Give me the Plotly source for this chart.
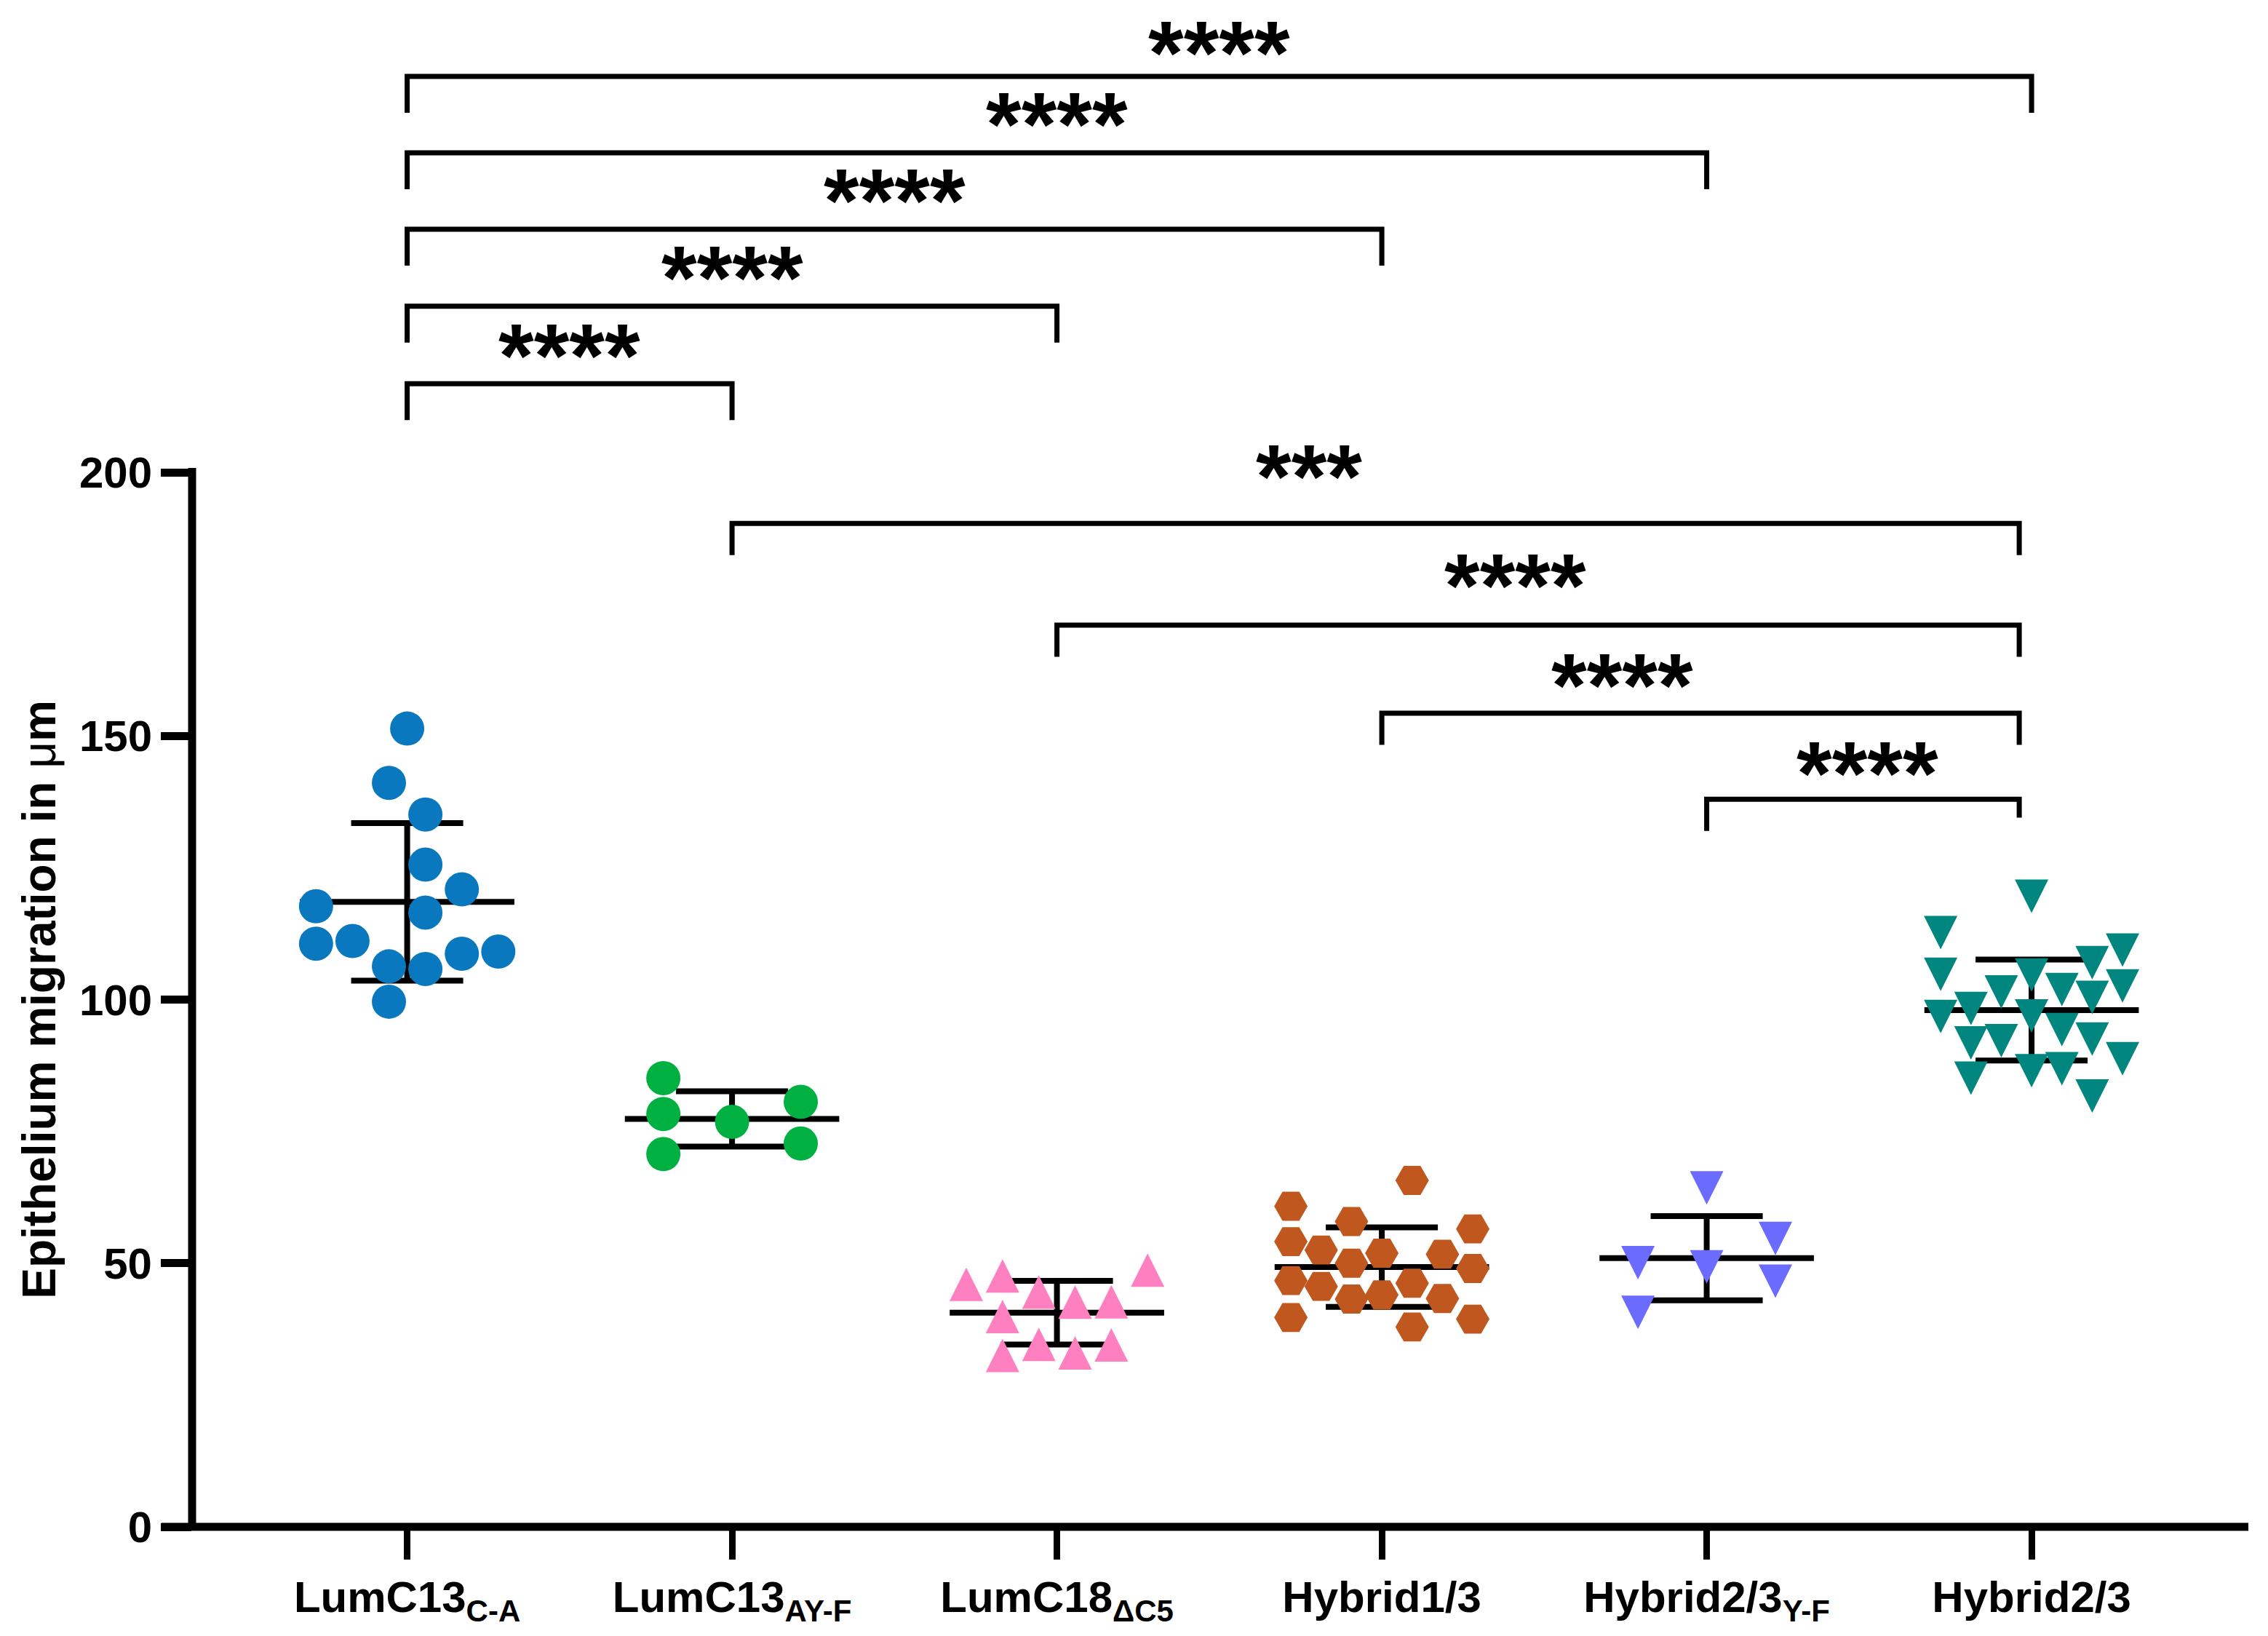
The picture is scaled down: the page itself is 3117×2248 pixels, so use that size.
import numpy as np
import plotly.graph_objects as go

# ---------------- data ----------------
categories = ["LumC13<sub>C-A</sub>", "LumC13<sub>AY-F</sub>", "LumC18<sub>ΔC5</sub>",
              "Hybrid1/3", "Hybrid2/3<sub>Y-F</sub>", "Hybrid2/3"]

lumc13_ca = [151.4, 141.1, 135.1, 125.6, 120.9, 117.7, 116.5, 110.6, 111.1, 108.7, 109.1, 106.3, 105.8, 99.6]
lumc13_ca_slot = [0, -1, 1, 1, 3, -5, 1, -5, -3, 3, 5, -1, 1, -1]

lumc13_ayf = [85.1, 78.3, 70.7, 76.8, 80.6, 72.7]
lumc13_ayf_slot = [-1, -1, -1, 0, 1, 1]

lumc18_dc5 = [46.0, 47.6, 44.5, 42.6, 42.7, 48.7, 39.9, 32.5, 34.6, 33.0, 34.5]
lumc18_dc5_slot = [-5, -3, -1, 1, 3, 5, -3, -3, -1, 1, 3]

hybrid13 = [65.7, 60.8, 57.9, 56.5, 54.1, 52.5, 51.9, 51.7, 50.0, 49.0, 46.7, 46.2, 45.6, 44.0, 43.2, 43.3, 39.7, 39.4, 37.9]
hybrid13_slot = [1, -3, -1, 3, -3, -2, 0, 2, -1, 3, -3, 1, -2, 0, -1, 2, -3, 3, 1]

hybrid23_yf = [64.3, 54.7, 50.1, 49.3, 46.6, 40.7]
hybrid23_yf_slot = [0, 1, -1, 0, 1, -1]

hybrid23 = [119.6, 112.7, 109.4, 107.0, 104.8, 104.65, 101.45, 101.9, 100.4, 102.6, 98.3,
            96.8, 96.9, 94.3, 91.8, 92.2, 92.5, 88.8, 85.1, 86.5, 86.9, 81.7]
hybrid23_slot = [0, -3, 3, 2, -3, 0, -1, 1, 2, 3, -2, -3, 0, 1, -2, -1, 2, 3, -2, 0, 1, 2]

y_ticks = [0, 50, 100, 150, 200]

# significance comparisons (group index pairs) and labels
top_pairs = [(1, 6), (1, 5), (1, 4), (1, 3), (1, 2)]
top_labels = ["****", "****", "****", "****", "****"]
low_pairs = [(2, 6), (3, 6), (4, 6), (5, 6)]
low_labels = ["***", "****", "****", "****"]

# ---------------- styles / layout constants ----------------
FONT = "Liberation Sans, Arial, sans-serif"
W, H = 3117, 2248
ML, MR, MT, MB = 264, 27, 11, 150
PX_PER_CAT = 446.5
PX_PER_UNIT = 7.245
X0 = 0.338
X1 = X0 + (W - ML - MR) / PX_PER_CAT
YMAX = (H - MT - MB) / PX_PER_UNIT
STAR_DY = -3.8 + 1.3

groups = [
    dict(v=lumc13_ca, s=lumc13_ca_slot, step=0.0561, symbol="circle", color="#0A78BE", size=47, angle=0, standoff=0),
    dict(v=lumc13_ayf, s=lumc13_ayf_slot, step=0.2115, symbol="circle", color="#00B141", size=47, angle=0, standoff=0),
    dict(v=lumc18_dc5, s=lumc18_dc5_slot, step=0.0558, symbol="arrow-down", color="#FF80C0", size=46, angle=180, standoff=23),
    dict(v=hybrid13, s=hybrid13_slot, step=0.0933, symbol="hexagon2", color="#C0571F", size=46, angle=0, standoff=0),
    dict(v=hybrid23_yf, s=hybrid23_yf_slot, step=0.2115, symbol="arrow-down", color="#6B6BFF", size=46, angle=0, standoff=23),
    dict(v=hybrid23, s=hybrid23_slot, step=0.0933, symbol="arrow-down", color="#00857F", size=46, angle=0, standoff=23),
]

fig = go.Figure()

# mean +/- SD
means = [float(np.mean(g["v"])) for g in groups]
sds = [float(np.std(g["v"], ddof=1)) for g in groups]
fig.add_trace(go.Scatter(
    x=list(range(1, 7)), y=means, mode="markers",
    marker=dict(size=1, color="rgba(0,0,0,0)"),
    error_y=dict(type="data", array=sds, width=77, thickness=8, color="black"),
    error_x=dict(type="constant", value=0.33, width=0, thickness=8, color="black"),
    hoverinfo="skip", showlegend=False,
))

for i, g in enumerate(groups):
    xs = [i + 1 + s * g["step"] for s in g["s"]]
    fig.add_trace(go.Scatter(
        x=xs, y=g["v"], mode="markers",
        marker=dict(symbol=g["symbol"], color=g["color"], size=g["size"],
                    angle=g["angle"], standoff=g["standoff"], line=dict(width=0)),
        showlegend=False,
    ))

shapes = []
annotations = []

# axis lines
shapes.append(dict(type="line", xref="paper", yref="paper",
                   x0=-(42 / (W - ML - MR)), x1=1, y0=0, y1=0,
                   line=dict(color="black", width=11)))
shapes.append(dict(type="line", xref="paper", yref="paper",
                   x0=0, x1=0, y0=0, y1=(max(y_ticks) + 6 / PX_PER_UNIT) / YMAX,
                   line=dict(color="black", width=11)))

# top brackets
top_levels = [275.1, 260.6, 246.1, 231.5, 216.8]
for k, ((a, b), lev, lab) in enumerate(zip(top_pairs, top_levels, top_labels)):
    leg = 6.9
    shapes.append(dict(type="path", xref="x", yref="y",
                       path=f"M{a},{lev - leg} L{a},{lev} L{b},{lev} L{b},{lev - leg}",
                       line=dict(color="black", width=7)))
    extra = -0.9 if k == 0 else 0.0   # keep the topmost label box inside the page
    annotations.append(dict(x=(a + b) / 2, y=lev + 7.7 + STAR_DY + 0.2 + extra, xref="x", yref="y",
                            text=lab, showarrow=False, xanchor="center", yanchor="middle",
                            font=dict(family=FONT, size=125, color="black", weight="bold")))

# lower brackets
low_levels = [190.3, 171.0, 154.3, 138.0]
low_right = 5.962
low_star_x = [3.775, 4.41, 4.74, 5.495]
low_star_y = [201.7, 181.1, 162.1, 145.4]
for k, ((a, b), lev, lab) in enumerate(zip(low_pairs, low_levels, low_labels)):
    right_leg = 3.5 if k == len(low_pairs) - 1 else 6.0
    shapes.append(dict(type="path", xref="x", yref="y",
                       path=f"M{a},{lev - 6.0} L{a},{lev} L{low_right},{lev} L{low_right},{lev - right_leg}",
                       line=dict(color="black", width=7)))
    annotations.append(dict(x=low_star_x[k], y=low_star_y[k] + STAR_DY, xref="x", yref="y",
                            text=lab, showarrow=False, xanchor="center", yanchor="middle",
                            font=dict(family=FONT, size=125, color="black", weight="bold")))

# y-axis title
annotations.append(dict(
    x=(53.2 - ML) / (W - ML - MR), y=100, xref="paper", yref="y",
    text="Epithelium migration in <span style='font-weight:normal'>μ</span>m",
    textangle=-90, showarrow=False, xanchor="center", yanchor="middle",
    font=dict(family=FONT, size=64, color="black", weight="bold")))

fig.update_layout(
    width=W, height=H,
    margin=dict(l=ML, r=MR, t=MT, b=MB, pad=0),
    paper_bgcolor="white", plot_bgcolor="white",
    showlegend=False,
    shapes=shapes, annotations=annotations,
    xaxis=dict(range=[X0, X1], tickvals=list(range(1, 7)), ticktext=categories,
               ticks="outside", ticklen=44, tickwidth=9, tickcolor="black",
               showline=False, showgrid=False, zeroline=False,
               tickfont=dict(family=FONT, size=60, color="black", weight="bold")),
    yaxis=dict(range=[0, YMAX], tickvals=y_ticks,
               ticks="outside", ticklen=42, tickwidth=11, tickcolor="black",
               showline=False, showgrid=False, zeroline=False,
               tickfont=dict(family=FONT, size=60, color="black", weight="bold")),
)

fig.write_html("out.html", config={"displayModeBar": False},
               post_script="document.body.style.margin='0';")
